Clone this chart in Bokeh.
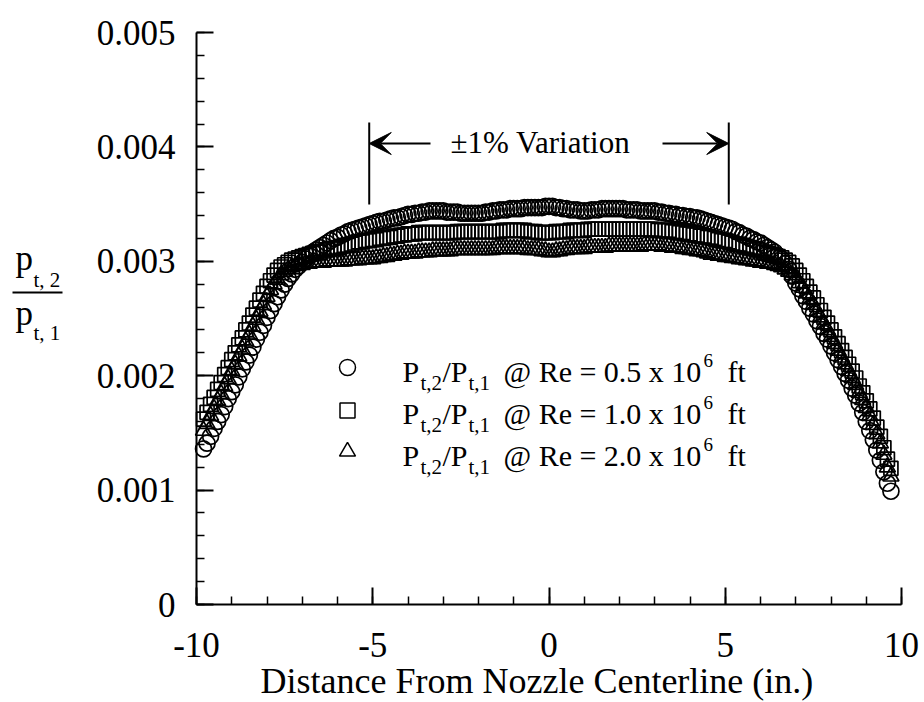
from bokeh.plotting import figure
from bokeh.models import Range1d, FixedTicker, Label, Arrow, VeeHead
from bokeh.embed import file_html
from bokeh.resources import INLINE

# ---------------- data ----------------
distance_in = [
    -9.8, -9.7, -9.6, -9.5, -9.4, -9.3, -9.2, -9.1, -9.0, -8.9,
    -8.8, -8.7, -8.6, -8.5, -8.4, -8.3, -8.2, -8.1, -8.0, -7.9,
    -7.8, -7.7, -7.6, -7.5, -7.4, -7.3, -7.2, -7.1, -7.0, -6.9,
    -6.8, -6.7, -6.6, -6.5, -6.4, -6.3, -6.2, -6.1, -6.0, -5.9,
    -5.8, -5.7, -5.6, -5.5, -5.4, -5.3, -5.2, -5.1, -5.0, -4.9,
    -4.8, -4.7, -4.6, -4.5, -4.4, -4.3, -4.2, -4.1, -4.0, -3.9,
    -3.8, -3.7, -3.6, -3.5, -3.4, -3.3, -3.2, -3.1, -3.0, -2.9,
    -2.8, -2.7, -2.6, -2.5, -2.4, -2.3, -2.2, -2.1, -2.0, -1.9,
    -1.8, -1.7, -1.6, -1.5, -1.4, -1.3, -1.2, -1.1, -1.0, -0.9,
    -0.8, -0.7, -0.6, -0.5, -0.4, -0.3, -0.2, -0.1, 0.0, 0.1,
    0.2, 0.3, 0.4, 0.5, 0.6, 0.7, 0.8, 0.9, 1.0, 1.1,
    1.2, 1.3, 1.4, 1.5, 1.6, 1.7, 1.8, 1.9, 2.0, 2.1,
    2.2, 2.3, 2.4, 2.5, 2.6, 2.7, 2.8, 2.9, 3.0, 3.1,
    3.2, 3.3, 3.4, 3.5, 3.6, 3.7, 3.8, 3.9, 4.0, 4.1,
    4.2, 4.3, 4.4, 4.5, 4.6, 4.7, 4.8, 4.9, 5.0, 5.1,
    5.2, 5.3, 5.4, 5.5, 5.6, 5.7, 5.8, 5.9, 6.0, 6.1,
    6.2, 6.3, 6.4, 6.5, 6.6, 6.7, 6.8, 6.9, 7.0, 7.1,
    7.2, 7.3, 7.4, 7.5, 7.6, 7.7, 7.8, 7.9, 8.0, 8.1,
    8.2, 8.3, 8.4, 8.5, 8.6, 8.7, 8.8, 8.9, 9.0, 9.1,
    9.2, 9.3, 9.4, 9.5, 9.6, 9.7,
]

ratio_re05 = [
    1.36e-3, 1.41e-3, 1.47e-3, 1.54e-3, 1.60e-3, 1.66e-3, 1.73e-3, 1.80e-3, 1.86e-3, 1.92e-3,
    1.99e-3, 2.06e-3, 2.12e-3, 2.18e-3, 2.25e-3, 2.32e-3, 2.38e-3, 2.44e-3, 2.51e-3, 2.57e-3,
    2.63e-3, 2.69e-3, 2.75e-3, 2.80e-3, 2.85e-3, 2.89e-3, 2.93e-3, 2.96e-3, 2.99e-3, 3.02e-3,
    3.05e-3, 3.08e-3, 3.10e-3, 3.12e-3, 3.14e-3, 3.16e-3, 3.18e-3, 3.20e-3, 3.21e-3, 3.23e-3,
    3.24e-3, 3.26e-3, 3.27e-3, 3.28e-3, 3.29e-3, 3.30e-3, 3.31e-3, 3.32e-3, 3.33e-3, 3.34e-3,
    3.35e-3, 3.35e-3, 3.36e-3, 3.37e-3, 3.38e-3, 3.38e-3, 3.39e-3, 3.40e-3, 3.41e-3, 3.41e-3,
    3.42e-3, 3.42e-3, 3.43e-3, 3.43e-3, 3.44e-3, 3.44e-3, 3.44e-3, 3.44e-3, 3.44e-3, 3.43e-3,
    3.43e-3, 3.43e-3, 3.43e-3, 3.42e-3, 3.42e-3, 3.42e-3, 3.42e-3, 3.42e-3, 3.42e-3, 3.42e-3,
    3.43e-3, 3.43e-3, 3.44e-3, 3.44e-3, 3.45e-3, 3.45e-3, 3.45e-3, 3.46e-3, 3.46e-3, 3.46e-3,
    3.46e-3, 3.47e-3, 3.47e-3, 3.47e-3, 3.47e-3, 3.47e-3, 3.47e-3, 3.48e-3, 3.48e-3, 3.48e-3,
    3.47e-3, 3.47e-3, 3.46e-3, 3.46e-3, 3.45e-3, 3.45e-3, 3.45e-3, 3.44e-3, 3.44e-3, 3.44e-3,
    3.45e-3, 3.45e-3, 3.45e-3, 3.46e-3, 3.46e-3, 3.46e-3, 3.46e-3, 3.46e-3, 3.46e-3, 3.46e-3,
    3.45e-3, 3.45e-3, 3.45e-3, 3.45e-3, 3.44e-3, 3.44e-3, 3.44e-3, 3.44e-3, 3.44e-3, 3.43e-3,
    3.43e-3, 3.42e-3, 3.42e-3, 3.41e-3, 3.41e-3, 3.40e-3, 3.40e-3, 3.39e-3, 3.39e-3, 3.38e-3,
    3.38e-3, 3.37e-3, 3.36e-3, 3.35e-3, 3.34e-3, 3.33e-3, 3.32e-3, 3.31e-3, 3.30e-3, 3.29e-3,
    3.28e-3, 3.26e-3, 3.25e-3, 3.23e-3, 3.22e-3, 3.20e-3, 3.19e-3, 3.17e-3, 3.16e-3, 3.14e-3,
    3.12e-3, 3.10e-3, 3.08e-3, 3.05e-3, 3.02e-3, 2.98e-3, 2.93e-3, 2.87e-3, 2.81e-3, 2.76e-3,
    2.70e-3, 2.65e-3, 2.59e-3, 2.54e-3, 2.48e-3, 2.43e-3, 2.37e-3, 2.32e-3, 2.26e-3, 2.20e-3,
    2.14e-3, 2.08e-3, 2.02e-3, 1.96e-3, 1.89e-3, 1.83e-3, 1.76e-3, 1.68e-3, 1.60e-3, 1.52e-3,
    1.44e-3, 1.35e-3, 1.26e-3, 1.16e-3, 1.06e-3, 0.99e-3,
]

ratio_re10 = [
    1.62e-3, 1.68e-3, 1.75e-3, 1.81e-3, 1.88e-3, 1.94e-3, 2.01e-3, 2.07e-3, 2.14e-3, 2.20e-3,
    2.27e-3, 2.33e-3, 2.40e-3, 2.46e-3, 2.53e-3, 2.59e-3, 2.66e-3, 2.72e-3, 2.78e-3, 2.83e-3,
    2.88e-3, 2.92e-3, 2.95e-3, 2.97e-3, 2.99e-3, 3.01e-3, 3.02e-3, 3.03e-3, 3.04e-3, 3.05e-3,
    3.06e-3, 3.07e-3, 3.08e-3, 3.08e-3, 3.09e-3, 3.10e-3, 3.11e-3, 3.11e-3, 3.12e-3, 3.13e-3,
    3.14e-3, 3.14e-3, 3.15e-3, 3.16e-3, 3.17e-3, 3.17e-3, 3.18e-3, 3.18e-3, 3.19e-3, 3.19e-3,
    3.20e-3, 3.20e-3, 3.21e-3, 3.21e-3, 3.22e-3, 3.22e-3, 3.23e-3, 3.23e-3, 3.24e-3, 3.24e-3,
    3.24e-3, 3.25e-3, 3.25e-3, 3.25e-3, 3.25e-3, 3.25e-3, 3.25e-3, 3.25e-3, 3.25e-3, 3.25e-3,
    3.25e-3, 3.25e-3, 3.26e-3, 3.26e-3, 3.26e-3, 3.26e-3, 3.26e-3, 3.26e-3, 3.26e-3, 3.26e-3,
    3.26e-3, 3.26e-3, 3.26e-3, 3.26e-3, 3.26e-3, 3.27e-3, 3.27e-3, 3.27e-3, 3.27e-3, 3.27e-3,
    3.27e-3, 3.27e-3, 3.26e-3, 3.26e-3, 3.26e-3, 3.25e-3, 3.25e-3, 3.25e-3, 3.25e-3, 3.25e-3,
    3.26e-3, 3.26e-3, 3.26e-3, 3.26e-3, 3.27e-3, 3.27e-3, 3.27e-3, 3.27e-3, 3.27e-3, 3.28e-3,
    3.28e-3, 3.28e-3, 3.28e-3, 3.28e-3, 3.28e-3, 3.28e-3, 3.28e-3, 3.28e-3, 3.28e-3, 3.28e-3,
    3.28e-3, 3.28e-3, 3.28e-3, 3.28e-3, 3.28e-3, 3.28e-3, 3.28e-3, 3.28e-3, 3.28e-3, 3.27e-3,
    3.27e-3, 3.27e-3, 3.27e-3, 3.26e-3, 3.26e-3, 3.25e-3, 3.25e-3, 3.24e-3, 3.24e-3, 3.23e-3,
    3.23e-3, 3.22e-3, 3.22e-3, 3.21e-3, 3.21e-3, 3.20e-3, 3.19e-3, 3.18e-3, 3.18e-3, 3.17e-3,
    3.16e-3, 3.15e-3, 3.15e-3, 3.14e-3, 3.13e-3, 3.12e-3, 3.11e-3, 3.10e-3, 3.09e-3, 3.08e-3,
    3.07e-3, 3.06e-3, 3.05e-3, 3.04e-3, 3.03e-3, 3.01e-3, 2.99e-3, 2.96e-3, 2.92e-3, 2.88e-3,
    2.83e-3, 2.78e-3, 2.73e-3, 2.68e-3, 2.62e-3, 2.57e-3, 2.51e-3, 2.46e-3, 2.40e-3, 2.34e-3,
    2.28e-3, 2.22e-3, 2.16e-3, 2.10e-3, 2.04e-3, 1.98e-3, 1.91e-3, 1.85e-3, 1.78e-3, 1.71e-3,
    1.63e-3, 1.55e-3, 1.47e-3, 1.37e-3, 1.27e-3, 1.19e-3,
]

ratio_re20 = [
    1.52e-3, 1.58e-3, 1.65e-3, 1.71e-3, 1.78e-3, 1.84e-3, 1.91e-3, 1.97e-3, 2.04e-3, 2.10e-3,
    2.17e-3, 2.23e-3, 2.30e-3, 2.36e-3, 2.43e-3, 2.49e-3, 2.56e-3, 2.62e-3, 2.69e-3, 2.75e-3,
    2.80e-3, 2.84e-3, 2.88e-3, 2.91e-3, 2.93e-3, 2.95e-3, 2.96e-3, 2.97e-3, 2.97e-3, 2.98e-3,
    2.98e-3, 2.99e-3, 2.99e-3, 2.99e-3, 2.99e-3, 3.00e-3, 3.00e-3, 3.00e-3, 3.00e-3, 3.00e-3,
    3.00e-3, 3.01e-3, 3.01e-3, 3.01e-3, 3.01e-3, 3.02e-3, 3.02e-3, 3.02e-3, 3.02e-3, 3.03e-3,
    3.03e-3, 3.04e-3, 3.04e-3, 3.05e-3, 3.05e-3, 3.06e-3, 3.06e-3, 3.07e-3, 3.07e-3, 3.07e-3,
    3.07e-3, 3.08e-3, 3.08e-3, 3.08e-3, 3.08e-3, 3.09e-3, 3.09e-3, 3.09e-3, 3.09e-3, 3.09e-3,
    3.09e-3, 3.10e-3, 3.10e-3, 3.10e-3, 3.10e-3, 3.10e-3, 3.10e-3, 3.10e-3, 3.10e-3, 3.10e-3,
    3.10e-3, 3.10e-3, 3.10e-3, 3.11e-3, 3.11e-3, 3.11e-3, 3.11e-3, 3.11e-3, 3.11e-3, 3.11e-3,
    3.11e-3, 3.11e-3, 3.10e-3, 3.10e-3, 3.10e-3, 3.10e-3, 3.09e-3, 3.09e-3, 3.08e-3, 3.08e-3,
    3.09e-3, 3.09e-3, 3.10e-3, 3.10e-3, 3.11e-3, 3.11e-3, 3.11e-3, 3.11e-3, 3.11e-3, 3.12e-3,
    3.12e-3, 3.12e-3, 3.12e-3, 3.12e-3, 3.12e-3, 3.13e-3, 3.13e-3, 3.13e-3, 3.13e-3, 3.13e-3,
    3.13e-3, 3.13e-3, 3.13e-3, 3.13e-3, 3.13e-3, 3.14e-3, 3.14e-3, 3.14e-3, 3.14e-3, 3.14e-3,
    3.13e-3, 3.13e-3, 3.13e-3, 3.12e-3, 3.12e-3, 3.12e-3, 3.11e-3, 3.11e-3, 3.10e-3, 3.10e-3,
    3.09e-3, 3.09e-3, 3.08e-3, 3.07e-3, 3.06e-3, 3.06e-3, 3.05e-3, 3.05e-3, 3.04e-3, 3.04e-3,
    3.03e-3, 3.03e-3, 3.02e-3, 3.02e-3, 3.01e-3, 3.01e-3, 3.00e-3, 3.00e-3, 2.99e-3, 2.99e-3,
    2.98e-3, 2.98e-3, 2.97e-3, 2.96e-3, 2.95e-3, 2.93e-3, 2.91e-3, 2.88e-3, 2.85e-3, 2.81e-3,
    2.77e-3, 2.72e-3, 2.67e-3, 2.62e-3, 2.56e-3, 2.51e-3, 2.45e-3, 2.40e-3, 2.34e-3, 2.28e-3,
    2.22e-3, 2.16e-3, 2.10e-3, 2.04e-3, 1.98e-3, 1.92e-3, 1.85e-3, 1.79e-3, 1.72e-3, 1.65e-3,
    1.57e-3, 1.49e-3, 1.41e-3, 1.31e-3, 1.20e-3, 1.12e-3,
]

series_re = ["0.5", "1.0", "2.0"]
series_markers = ["circle", "square", "triangle"]

x_major_ticks = [-10, -5, 0, 5, 10]
x_minor_ticks = [-10, -9, -8, -7, -6, -5, -4, -3, -2, -1, 0, 1, 2, 3, 4, 5, 6, 7, 8, 9, 10]
x_tick_labels = ["-10", "-5", "0", "5", "10"]
y_major_ticks = [0, 0.001, 0.002, 0.003, 0.004, 0.005]
y_tick_labels = ["0", "0.001", "0.002", "0.003", "0.004", "0.005"]

band_limits = [-5.1, 5.1]
band_text = "\u00b11% Variation"
x_title = "Distance From Nozzle Centerline (in.)"

# ---------------- layout ----------------
FONT = "Liberation Serif"
W, H = 924, 702
L, R, T, B = 196, 901, 32, 604   # axis positions in page pixels
XMIN, XMAX, YMIN, YMAX = -10, 10, 0.0, 0.005


def dx(px):
    return XMIN + (px - L) * (XMAX - XMIN) / (R - L)


def dy(py):
    return YMIN + (B - py) * (YMAX - YMIN) / (B - T)


def text_at(plot, txt, px, base, fs):
    """Place text whose baseline is at page pixel row `base`."""
    plot.add_layout(Label(x=dx(px), y=dy(base - 0.34 * fs), text=txt, text_font=FONT,
                          text_font_size="%dpx" % fs, text_color="black",
                          text_baseline="middle", text_align="left"))


# the frame covers the whole page; both axes are pinned at x = -10 and y = 0
p = figure(width=W, height=H, x_range=Range1d(dx(0), dx(W)), y_range=Range1d(dy(H), dy(0)),
           output_backend="svg", toolbar_location=None,
           min_border_left=0, min_border_right=0, min_border_top=0, min_border_bottom=0)
p.outline_line_color = None
p.xgrid.visible = False
p.ygrid.visible = False
p.background_fill_color = "white"
p.border_fill_color = "white"

p.yaxis.fixed_location = XMIN
p.yaxis.bounds = (YMIN, YMAX)
p.xaxis.fixed_location = YMIN
p.xaxis.bounds = (XMIN, XMAX)

p.xaxis.ticker = FixedTicker(ticks=x_major_ticks, minor_ticks=x_minor_ticks)
p.yaxis.ticker = FixedTicker(ticks=y_major_ticks,
                             minor_ticks=[i * 0.0002 for i in range(26)])
p.xaxis.major_label_overrides = dict(zip(x_major_ticks, x_tick_labels))
p.yaxis.major_label_overrides = dict(zip(y_major_ticks, y_tick_labels))

for ax in (p.xaxis[0], p.yaxis[0]):
    ax.axis_line_width = 2
    ax.axis_line_color = "black"
    ax.major_tick_line_width = 2
    ax.major_tick_line_color = "black"
    ax.minor_tick_line_width = 1.5
    ax.minor_tick_line_color = "black"
    ax.major_tick_in = 17
    ax.major_tick_out = 0
    ax.minor_tick_in = 8
    ax.minor_tick_out = 0
    ax.major_label_text_font = FONT
    ax.major_label_text_font_size = "35px"
    ax.major_label_text_color = "black"
p.xaxis.major_label_standoff = 28
p.yaxis.major_label_standoff = 21

# data
for yvals, mk, sz in ((ratio_re05, "circle", 16), (ratio_re10, "square", 14),
                      (ratio_re20, "triangle", 16)):
    p.scatter(distance_in, yvals, marker=mk, size=sz, fill_color=None,
              line_color="black", line_width=1.7)

# legend
row_base = [381, 423, 465]
row_marker = [367, 410, 451]
for i, (re, mk) in enumerate(zip(series_re, series_markers)):
    sz = 16 if mk != "square" else 15
    p.scatter([dx(347)], [dy(row_marker[i])], marker=mk, size=sz, fill_color=None,
              line_color="black", line_width=1.5)
    b = row_base[i]
    for txt, px, off, fs in (("P", 402, 0, 30), ("t,2", 420, 9, 21), ("/P", 442, 0, 30),
                             ("t,1", 468, 9, 21), ("@ Re = %s x 10" % re, 503, 0, 30),
                             ("6", 703, -15, 19), ("ft", 727, 0, 30)):
        text_at(p, txt, px, b + off, fs)

# variation band annotation
p.segment(x0=band_limits, y0=[dy(204)] * 2, x1=band_limits, y1=[dy(122)] * 2,
          line_color="black", line_width=2)
p.add_layout(Arrow(end=VeeHead(size=22, fill_color="black", line_color="black"),
                   x_start=dx(430), y_start=dy(143), x_end=band_limits[0], y_end=dy(143),
                   line_width=2, line_color="black"))
p.add_layout(Arrow(end=VeeHead(size=22, fill_color="black", line_color="black"),
                   x_start=dx(662), y_start=dy(143), x_end=band_limits[1], y_end=dy(143),
                   line_width=2, line_color="black"))
text_at(p, band_text, 450, 153, 31)

# x-axis title
text_at(p, x_title, 260, 693, 36)

# y-axis title, a fraction p_{t,2} / p_{t,1}
for txt, px, base, fs in (("p", 15, 270, 35), ("t, 2", 33, 287, 21),
                          ("p", 15, 325, 35), ("t, 1", 33, 340, 21)):
    text_at(p, txt, px, base, fs)
p.segment(x0=[dx(12)], y0=[dy(292)], x1=[dx(62)], y1=[dy(292)],
          line_color="black", line_width=2)

open("out.html", "w").write(file_html(p, INLINE))
